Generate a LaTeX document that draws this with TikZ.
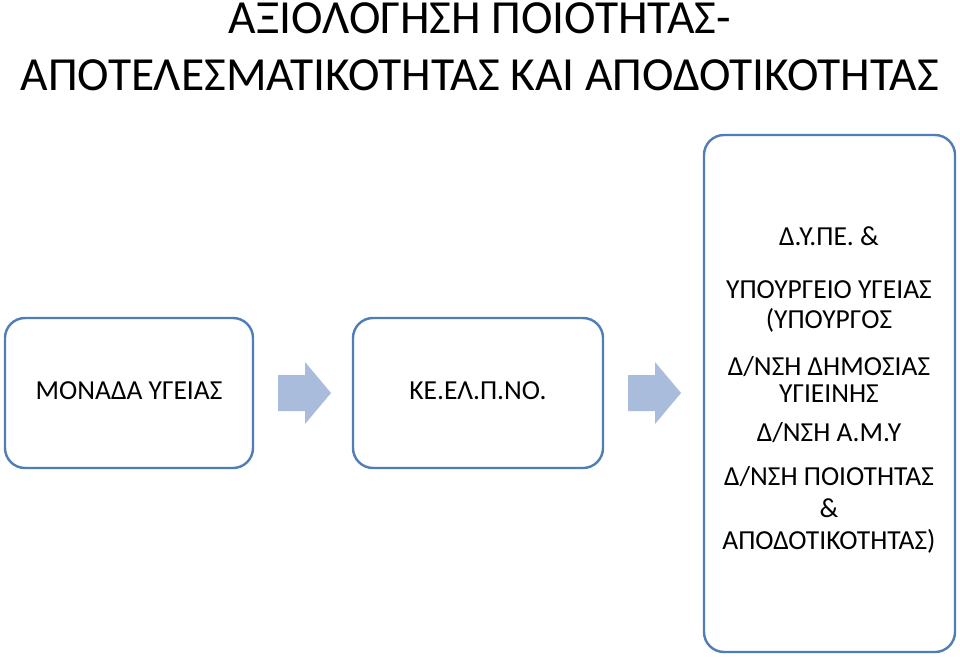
\documentclass[tikz,border=0pt]{standalone}
\usepackage{fontspec}
\setmainfont{Carlito}
\begin{document}
\begin{tikzpicture}[x=1pt,y=-1pt,
  boxst/.style={draw=boxblue,line width=2.4pt,rounded corners=20pt,fill=white},
  txt/.style={font=\fontsize{27.5}{30}\selectfont,align=center},
  barrow/.style={fill=arrowblue,draw=none}]
\definecolor{boxblue}{HTML}{4F7DB8}
\definecolor{arrowblue}{HTML}{A9BCDB}
\useasboundingbox (0,0) rectangle (960,658);
\node[font=\fontsize{47.5}{57}\selectfont,align=center] (title) at (480,47)
  {ΑΞΙΟΛΟΓΗΣΗ ΠΟΙΟΤΗΤΑΣ-\\ΑΠΟΤΕΛΕΣΜΑΤΙΚΟΤΗΤΑΣ ΚΑΙ ΑΠΟΔΟΤΙΚΟΤΗΤΑΣ};
\draw[boxst] (5,318) rectangle (253,468);
\draw[boxst] (353,318) rectangle (603,468);
\draw[boxst] (704,135) rectangle (955,652);
\node[txt] (b1) at (129,391) {ΜΟΝΑΔΑ ΥΓΕΙΑΣ};
\node[txt] (b2) at (478,391) {ΚΕ.ΕΛ.Π.ΝΟ.};
\node[txt] (b3) at (829,390)
  {Δ.Υ.ΠΕ. \&\\[23pt] ΥΠΟΥΡΓΕΙΟ ΥΓΕΙΑΣ\\(ΥΠΟΥΡΓΟΣ\\[17pt] Δ/ΝΣΗ ΔΗΜΟΣΙΑΣ\\[-3pt] ΥΓΙΕΙΝΗΣ\\[9pt] Δ/ΝΣΗ Α.Μ.Υ\\[14pt] Δ/ΝΣΗ ΠΟΙΟΤΗΤΑΣ\\[2pt] \&\\[2pt] ΑΠΟΔΟΤΙΚΟΤΗΤΑΣ)};
\fill[barrow] (278,375) -- (305,375) -- (305,362) -- (331,393) -- (305,424) -- (305,411) -- (278,411) -- cycle;
\fill[barrow] (628,375) -- (655,375) -- (655,362) -- (681,393) -- (655,424) -- (655,411) -- (628,411) -- cycle;
\end{tikzpicture}
\end{document}
